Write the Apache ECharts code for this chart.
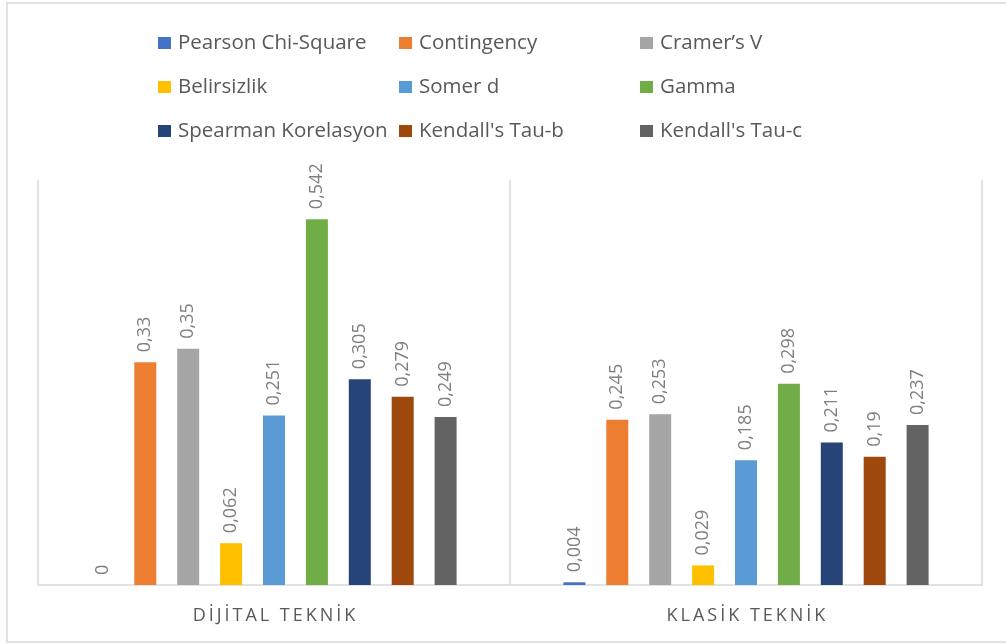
<!DOCTYPE html>
<html>
<head>
<meta charset="utf-8">
<script src="https://cdn.jsdelivr.net/npm/echarts@6/dist/echarts.min.js"></script>
<style>
  html, body { margin: 0; padding: 0; background: #fff; }
  #chart { width: 1006px; height: 644px; }
</style>
</head>
<body>
<div id="chart"></div>
<script>
// kategoriler (x ekseni)
const categories = ['DİJİTAL TEKNİK', 'KLASİK TEKNİK']
// seri adları, legend sırası
const seriesNames = ['Pearson Chi-Square', 'Contingency', 'Cramer’s V', 'Belirsizlik', 'Somer d',
  'Gamma', 'Spearman Korelasyon', "Kendall's Tau-b", "Kendall's Tau-c"]
const seriesColors = ['#4472C4', '#ED7D31', '#A5A5A5', '#FFC000', '#5B9BD5',
  '#70AD47', '#264478', '#9E480E', '#636363']
// değerler
const dijitalValues = [0, 0.33, 0.35, 0.062, 0.251, 0.542, 0.305, 0.279, 0.249]
const klasikValues = [0.004, 0.245, 0.253, 0.029, 0.185, 0.298, 0.211, 0.19, 0.237]

const chartInstance = echarts.init(document.getElementById('chart'))

const series = seriesNames.map((name, i) => {
  return {
    name: name,
    type: 'bar',
    data: [dijitalValues[i], klasikValues[i]],
    barWidth: 22,
    barGap: '95%',
    itemStyle: { color: seriesColors[i] },
    label: {
      show: true,
      position: 'top',
      rotate: 90,
      align: 'left',
      verticalAlign: 'middle',
      distance: 10,
      color: '#7f7f7f',
      fontSize: 18,
      fontFamily: 'Open Sans',
      formatter: (p) => String(p.value).replace('.', ',')
    }
  }
})

// legend 3 sütun halinde
const legendCol = (idx, left) => ({
  orient: 'vertical',
  left: left,
  top: 27,
  itemWidth: 13,
  itemHeight: 12,
  itemGap: 22,
  icon: 'rect',
  textStyle: { color: '#595959', fontSize: 20.5, fontFamily: 'Open Sans', lineHeight: 22, padding: [0, 0, 0, 2] },
  data: idx.map(i => seriesNames[i])
})

const option = {
  animation: false,
  legend: [
    legendCol([0, 3, 6], 153),
    legendCol([1, 4, 7], 394),
    legendCol([2, 5, 8], 635)
  ],
  grid: {
    left: 38,
    right: 24,
    top: 180,
    bottom: 59
  },
  xAxis: {
    type: 'category',
    data: categories,
    axisTick: { show: false },
    axisLine: { lineStyle: { color: '#d9d9d9', width: 1.5 } },
    splitLine: { show: true, lineStyle: { color: '#d9d9d9', width: 1.5 } },
    axisLabel: {
      color: '#595959',
      fontSize: 18,
      fontFamily: 'Open Sans',
      margin: 22,
      formatter: (v) => v.split('').join('\u2009')
    }
  },
  yAxis: {
    type: 'value',
    min: 0,
    max: 0.6,
    show: false
  },
  graphic: [
    {
      type: 'rect',
      shape: { x: 7, y: 3, width: 1010, height: 639 },
      style: { fill: 'none', stroke: '#d9d9d9', lineWidth: 1.5 },
      silent: true
    }
  ],
  series: series
}
chartInstance.setOption(option)
</script>
</body>
</html>
